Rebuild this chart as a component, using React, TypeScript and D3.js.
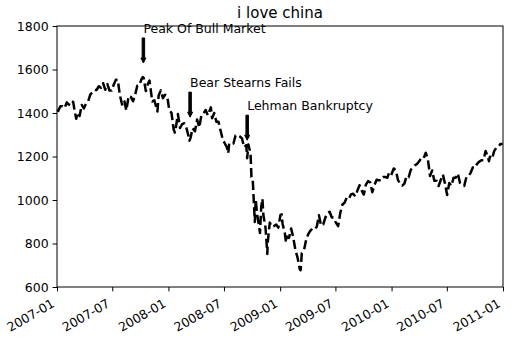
import React, { useRef, useEffect } from "react";
import * as d3 from "d3";

// weekly closes
const spx2007: [string, number][] = [
  ["2007-01-03", 1416], ["2007-01-05", 1409], ["2007-01-12", 1431], ["2007-01-19", 1431], ["2007-01-26", 1423],
  ["2007-02-02", 1449], ["2007-02-09", 1438], ["2007-02-16", 1456], ["2007-02-23", 1451], ["2007-02-28", 1407],
  ["2007-03-05", 1374], ["2007-03-09", 1402], ["2007-03-16", 1386], ["2007-03-23", 1437], ["2007-03-30", 1421],
  ["2007-04-06", 1444], ["2007-04-13", 1453], ["2007-04-20", 1485], ["2007-04-27", 1495], ["2007-05-04", 1506],
  ["2007-05-11", 1506], ["2007-05-18", 1523], ["2007-05-25", 1516], ["2007-06-01", 1537], ["2007-06-08", 1507],
  ["2007-06-15", 1533], ["2007-06-22", 1503], ["2007-06-29", 1503], ["2007-07-06", 1531], ["2007-07-13", 1553],
  ["2007-07-19", 1553], ["2007-07-26", 1482], ["2007-08-03", 1434], ["2007-08-10", 1453], ["2007-08-16", 1411],
  ["2007-08-24", 1479], ["2007-08-31", 1474], ["2007-09-07", 1454], ["2007-09-14", 1484], ["2007-09-21", 1525],
  ["2007-09-28", 1527], ["2007-10-05", 1557], ["2007-10-09", 1565], ["2007-10-12", 1561], ["2007-10-19", 1501],
  ["2007-10-26", 1535], ["2007-10-31", 1549], ["2007-11-07", 1475], ["2007-11-09", 1453], ["2007-11-16", 1458],
  ["2007-11-26", 1407], ["2007-11-30", 1481], ["2007-12-07", 1504], ["2007-12-14", 1468], ["2007-12-21", 1484],
  ["2007-12-28", 1478],
];

const spx2008: [string, number][] = [
  ["2008-01-04", 1411], ["2008-01-11", 1401], ["2008-01-18", 1325], ["2008-01-22", 1310], ["2008-01-25", 1330],
  ["2008-02-01", 1395], ["2008-02-08", 1331], ["2008-02-15", 1349], ["2008-02-22", 1353], ["2008-02-29", 1331],
  ["2008-03-07", 1293], ["2008-03-10", 1273], ["2008-03-14", 1288], ["2008-03-20", 1330], ["2008-03-28", 1316],
  ["2008-04-04", 1370], ["2008-04-11", 1333], ["2008-04-18", 1390], ["2008-04-25", 1398], ["2008-05-02", 1414],
  ["2008-05-09", 1389], ["2008-05-19", 1426], ["2008-05-23", 1376], ["2008-05-30", 1400], ["2008-06-06", 1360],
  ["2008-06-13", 1360], ["2008-06-20", 1318], ["2008-06-27", 1278], ["2008-07-03", 1262], ["2008-07-11", 1240],
  ["2008-07-15", 1215], ["2008-07-18", 1261], ["2008-07-25", 1257], ["2008-08-01", 1260], ["2008-08-08", 1297],
  ["2008-08-15", 1298], ["2008-08-22", 1292], ["2008-08-29", 1283], ["2008-09-05", 1242], ["2008-09-12", 1252],
  ["2008-09-15", 1192], ["2008-09-19", 1255], ["2008-09-26", 1213], ["2008-09-29", 1106], ["2008-10-03", 1100],
  ["2008-10-10", 899], ["2008-10-13", 1003], ["2008-10-17", 940], ["2008-10-24", 877], ["2008-10-27", 848],
  ["2008-10-31", 969], ["2008-11-04", 1005], ["2008-11-07", 931], ["2008-11-14", 873], ["2008-11-20", 752],
  ["2008-11-21", 800], ["2008-11-28", 896], ["2008-12-05", 876], ["2008-12-12", 880], ["2008-12-19", 887],
  ["2008-12-26", 873],
];

const spx2009: [string, number][] = [
  ["2009-01-02", 931], ["2009-01-06", 934], ["2009-01-09", 890], ["2009-01-16", 850], ["2009-01-20", 805],
  ["2009-01-23", 832], ["2009-01-30", 826], ["2009-02-06", 869], ["2009-02-13", 827], ["2009-02-20", 770],
  ["2009-02-27", 735], ["2009-03-06", 683], ["2009-03-09", 677], ["2009-03-13", 756], ["2009-03-20", 768],
  ["2009-03-27", 816], ["2009-04-03", 843], ["2009-04-09", 857], ["2009-04-17", 870], ["2009-04-24", 866],
  ["2009-05-01", 877], ["2009-05-08", 930], ["2009-05-15", 883], ["2009-05-22", 887], ["2009-05-29", 919],
  ["2009-06-05", 940], ["2009-06-12", 946], ["2009-06-19", 921], ["2009-06-26", 918], ["2009-07-02", 897],
  ["2009-07-10", 880], ["2009-07-17", 941], ["2009-07-24", 979], ["2009-07-31", 987], ["2009-08-07", 1010],
  ["2009-08-14", 1005], ["2009-08-21", 1026], ["2009-08-28", 1029], ["2009-09-04", 1017], ["2009-09-11", 1043],
  ["2009-09-18", 1068], ["2009-09-25", 1044], ["2009-10-02", 1025], ["2009-10-09", 1071], ["2009-10-16", 1087],
  ["2009-10-23", 1080], ["2009-10-30", 1036], ["2009-11-06", 1069], ["2009-11-13", 1093], ["2009-11-20", 1091],
  ["2009-11-27", 1091], ["2009-12-04", 1106], ["2009-12-11", 1106], ["2009-12-18", 1102], ["2009-12-24", 1126],
  ["2009-12-31", 1115],
];

const spx2010: [string, number][] = [
  ["2010-01-08", 1145], ["2010-01-15", 1136], ["2010-01-22", 1092], ["2010-01-29", 1074], ["2010-02-05", 1066],
  ["2010-02-12", 1075], ["2010-02-19", 1109], ["2010-02-26", 1105], ["2010-03-05", 1139], ["2010-03-12", 1150],
  ["2010-03-19", 1160], ["2010-03-26", 1167], ["2010-04-02", 1179], ["2010-04-09", 1194], ["2010-04-16", 1192],
  ["2010-04-23", 1217], ["2010-04-30", 1187], ["2010-05-07", 1110], ["2010-05-14", 1136], ["2010-05-21", 1088],
  ["2010-05-28", 1089], ["2010-06-04", 1064], ["2010-06-11", 1092], ["2010-06-18", 1117], ["2010-06-25", 1076],
  ["2010-07-02", 1023], ["2010-07-09", 1078], ["2010-07-16", 1065], ["2010-07-23", 1102], ["2010-07-30", 1102],
  ["2010-08-06", 1122], ["2010-08-13", 1079], ["2010-08-20", 1071], ["2010-08-27", 1065], ["2010-09-03", 1105],
  ["2010-09-10", 1110], ["2010-09-17", 1125], ["2010-09-24", 1149], ["2010-10-01", 1147], ["2010-10-08", 1166],
  ["2010-10-15", 1176], ["2010-10-22", 1183], ["2010-10-29", 1183], ["2010-11-05", 1225], ["2010-11-12", 1199],
  ["2010-11-16", 1178], ["2010-11-19", 1199], ["2010-11-26", 1189], ["2010-12-03", 1225], ["2010-12-10", 1240],
  ["2010-12-17", 1244], ["2010-12-23", 1257], ["2010-12-31", 1258],
];

const annoDates = ["2007-10-11", "2008-03-12", "2008-09-15"];
const annoLabels = ["Peak Of Bull Market", "Bear Stearns Fails", "Lehman Bankruptcy"];
const annoLevels = [1630, 1381, 1275];

const yTicks = [600, 800, 1000, 1200, 1400, 1600, 1800];
const xTickLabels = [
  "2007-01", "2007-07", "2008-01", "2008-07", "2009-01",
  "2009-07", "2010-01", "2010-07", "2011-01",
];

const W = 522;
const H = 363;
const margin = { top: 26, right: 19, bottom: 76, left: 57 };
const FONT = "DejaVu Sans, sans-serif";

const App = () => {
  const ref = useRef<SVGSVGElement>(null);

  useEffect(() => {
    const svg = d3.select(ref.current);
    svg.selectAll("*").remove();

    const parse = d3.timeParse("%Y-%m-%d");
    const parseM = d3.timeParse("%Y-%m");
    const data = [...spx2007, ...spx2008, ...spx2009, ...spx2010].map(([d, v]) => ({
      date: parse(d) as Date,
      value: v,
    }));

    const x = d3
      .scaleTime()
      .domain([parseM("2007-01") as Date, parseM("2011-01") as Date])
      .range([margin.left, W - margin.right]);
    const y = d3
      .scaleLinear()
      .domain([600, 1800])
      .range([H - margin.bottom, margin.top]);

    // price line
    const line = d3
      .line<{ date: Date; value: number }>()
      .x((d) => x(d.date))
      .y((d) => y(d.value));

    svg
      .append("path")
      .datum(data)
      .attr("d", line)
      .attr("fill", "none")
      .attr("stroke", "black")
      .attr("stroke-width", 2.5)
      .attr("stroke-dasharray", "9.25,4")
      .attr("stroke-linejoin", "round");

    // frame
    svg
      .append("rect")
      .attr("x", margin.left)
      .attr("y", margin.top)
      .attr("width", W - margin.left - margin.right)
      .attr("height", H - margin.top - margin.bottom)
      .attr("fill", "none")
      .attr("stroke", "black")
      .attr("stroke-width", 1);

    // y axis
    const yAxis = d3
      .axisLeft(y)
      .tickValues(yTicks)
      .tickSize(4.4)
      .tickPadding(4)
      .tickFormat((d) => String(d));
    const gy = svg.append("g").attr("transform", `translate(${margin.left},0)`).call(yAxis);
    gy.select(".domain").remove();
    gy.selectAll("text").attr("font-family", FONT).attr("font-size", 12.5).attr("fill", "black");

    // x axis
    const xTicks = xTickLabels.map((s) => parseM(s) as Date);
    const xAxis = d3
      .axisBottom(x)
      .tickValues(xTicks)
      .tickSize(4.4)
      .tickFormat(() => "");
    const gx = svg
      .append("g")
      .attr("transform", `translate(0,${H - margin.bottom})`)
      .call(xAxis);
    gx.select(".domain").remove();

    svg
      .selectAll(".xlab")
      .data(xTickLabels)
      .join("text")
      .attr("class", "xlab")
      .attr("transform", (d) => `translate(${x(parseM(d) as Date) - 1.5},${H - margin.bottom + 19}) rotate(-30)`)
      .attr("text-anchor", "end")
      .attr("font-family", FONT)
      .attr("font-size", 12.5)
      .attr("fill", "black")
      .text((d) => d);

    // annotations
    annoDates.forEach((ds, i) => {
      const ax = x(parse(ds) as Date);
      const tipY = y(annoLevels[i]);
      const startY = y(annoLevels[i] + 115);
      const hw = 2.5;
      const sw = 1.25;
      const hl = 5;
      const pts = [
        [ax - sw, startY],
        [ax + sw, startY],
        [ax + sw, tipY - hl],
        [ax + hw, tipY - hl],
        [ax, tipY],
        [ax - hw, tipY - hl],
        [ax - sw, tipY - hl],
      ];
      svg
        .append("polygon")
        .attr("points", pts.map((p) => p.join(",")).join(" "))
        .attr("fill", "black")
        .attr("stroke", "black")
        .attr("stroke-width", 1);
      svg
        .append("text")
        .attr("x", ax)
        .attr("y", y(annoLevels[i] + 138))
        .attr("font-family", FONT)
        .attr("font-size", 12.5)
        .attr("fill", "black")
        .text(annoLabels[i]);
    });

    // title
    svg
      .append("text")
      .attr("x", (margin.left + W - margin.right) / 2)
      .attr("y", 18)
      .attr("text-anchor", "middle")
      .attr("font-family", FONT)
      .attr("font-size", 15)
      .attr("fill", "black")
      .text("i love china");
  }, []);

  return (
    <svg
      ref={ref}
      width={W}
      height={H}
      style={{ position: "absolute", left: 0, top: 0, background: "white" }}
    ></svg>
  );
};

export default App;
